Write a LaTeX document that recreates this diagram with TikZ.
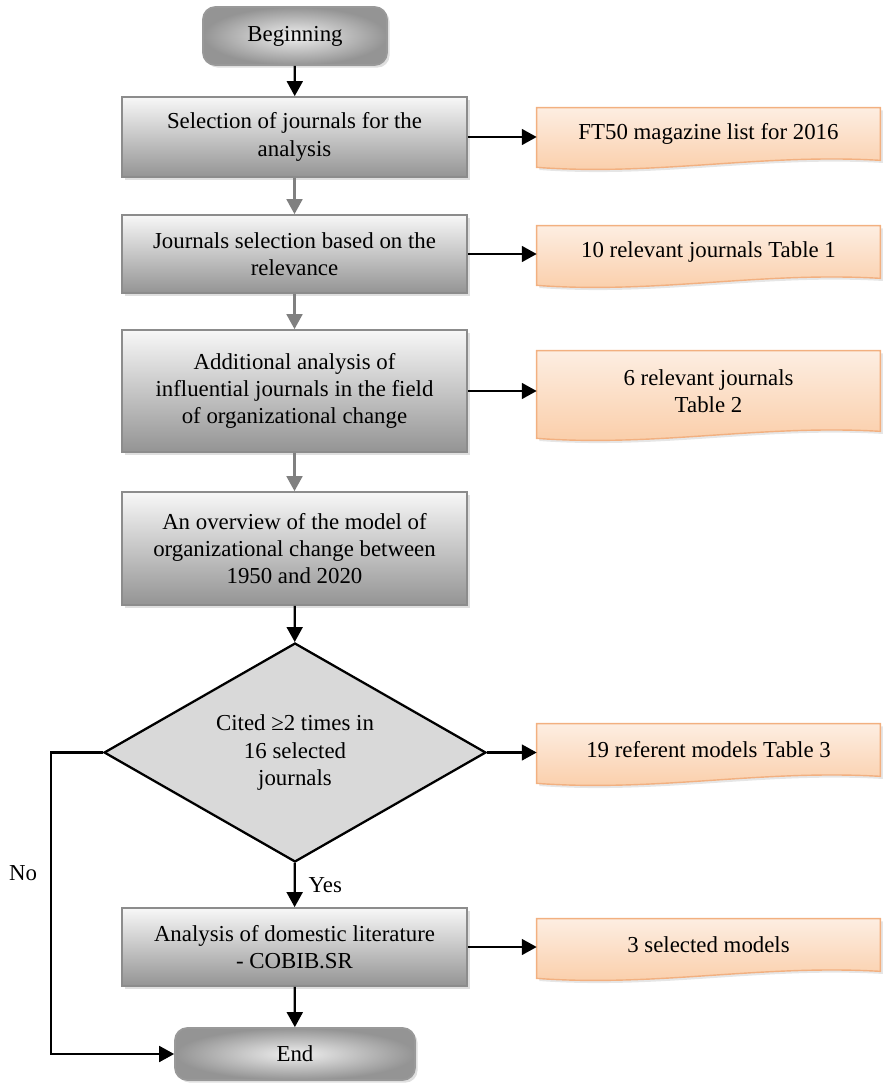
\documentclass[tikz,border=0pt]{standalone}
\usepackage{fontspec}
\setmainfont{Liberation Serif}
\usetikzlibrary{shapes.geometric,arrows.meta,shadows,backgrounds,calc,positioning}

\newcommand{\mainsize}{\fontsize{13}{15.5}\selectfont}
\definecolor{peachtop}{RGB}{253,238,226}
\definecolor{peachbot}{RGB}{250,204,166}
\definecolor{peachline}{RGB}{242,176,128}

% wavy bottom behind an orange node
\newcommand{\wavebg}[1]{%
  \begin{scope}[on background layer]
    \path[wavebox] let \p1=(#1.north west), \p2=(#1.south east), \n1={\x2-\x1} in
      (\x1,\y1) -- (\x2,\y1) -- (\x2,\y2)
      .. controls (\x2-0.35*\n1,\y2+4pt) and (\x1+0.35*\n1,\y2-9pt) .. (\x1,\y2-4pt) -- cycle;
  \end{scope}}

\begin{document}
\begin{tikzpicture}[x=0.02cm, y=-0.02cm,
    every node/.style={font=\mainsize},
    stepbox/.style={draw=black!45, line width=1pt, top color=black!3, bottom color=black!42,
      minimum width=6.9cm, align=center,
      drop shadow={opacity=0.25, shadow xshift=1.5pt, shadow yshift=-1.5pt}},
    termbox/.style={draw=black!40, line width=1pt, rounded corners=7pt, shading=radial,
      inner color=black!6, outer color=black!42, minimum width=3.68cm, minimum height=1.16cm,
      drop shadow={opacity=0.25, shadow xshift=1.5pt, shadow yshift=-1.5pt}},
    notebox/.style={minimum width=6.86cm, minimum height=1.04cm, align=center},
    wavebox/.style={draw=peachline, line width=0.8pt, top color=peachtop, bottom color=peachbot,
      drop shadow={opacity=0.2, shadow xshift=1.5pt, shadow yshift=-1.5pt}},
    decision/.style={diamond, draw=black, line width=1.3pt, fill=black!15, aspect=1.74,
      minimum width=7.64cm, minimum height=4.38cm, inner sep=0pt, align=center},
    arr/.style={-{Triangle[length=8.5pt,width=9pt]}, line width=1.3pt},
    greyarr/.style={arr, draw=black!50}]

    \useasboundingbox (0,0) rectangle (886,1084);

    %main column
    \node[termbox] (beg) at (295,36) {Beginning};
    \node[stepbox, minimum height=1.6cm] (sel) at (294.5,137) {Selection of journals for the\\analysis};
    \node[stepbox, minimum height=1.56cm] (jrn) at (294.5,254) {Journals selection based on the\\relevance};
    \node[stepbox, minimum height=2.44cm] (add) at (294.5,391) {Additional analysis of\\influential journals in the field\\of organizational change};
    \node[stepbox, minimum height=2.26cm] (ovr) at (294.5,548.5) {An overview of the model of\\organizational change between\\1950 and 2020};
    \node[decision] (dia) at (295,752.5) {Cited ≥2 times in\\16 selected\\journals};
    \node[stepbox, minimum height=1.56cm] (ana) at (294.5,947) {Analysis of domestic literature\\- COBIB.SR};
    \node[termbox, minimum width=4.8cm, minimum height=1.04cm] (end) at (295,1054) {End};

    %side results
    \node[notebox] (ft) at (708.5,134) {FT50 magazine list for 2016};
    \node[notebox] (rel10) at (708.5,252) {10 relevant journals Table 1};
    \node[notebox, minimum height=1.6cm] (rel6) at (708.5,391) {6 relevant journals\\Table 2};
    \node[notebox] (ref19) at (708.5,750) {19 referent models Table 3};
    \node[notebox] (sel3) at (708.5,945) {3 selected models};
    \wavebg{ft}
    \wavebg{rel10}
    \wavebg{rel6}
    \wavebg{ref19}
    \wavebg{sel3}

    %vertical arrows
    \draw[arr] (beg) -- (sel);
    \draw[greyarr] (sel) -- (jrn);
    \draw[greyarr] (jrn) -- (add);
    \draw[greyarr] (add) -- (ovr);
    \draw[arr] (ovr) -- (dia);
    \draw[arr] (dia) -- node[right, xshift=4pt] {Yes} (ana);
    \draw[arr] (ana) -- (end);

    %horizontal arrows
    \draw[arr] (sel.east) -- (sel.east -| ft.west);
    \draw[arr] (jrn.east) -- (jrn.east -| rel10.west);
    \draw[arr] (add.east) -- (add.east -| rel6.west);
    \draw[arr] (dia.east) -- (dia.east -| ref19.west);
    \draw[arr] (ana.east) -- (ana.east -| sel3.west);

    %no branch
    \coordinate (nobend) at (51,752.5);
    \draw[arr] (dia.west) -- (nobend) |- (end.west);
    \node (nolbl) at (23,873) {No};
\end{tikzpicture}
\end{document}
